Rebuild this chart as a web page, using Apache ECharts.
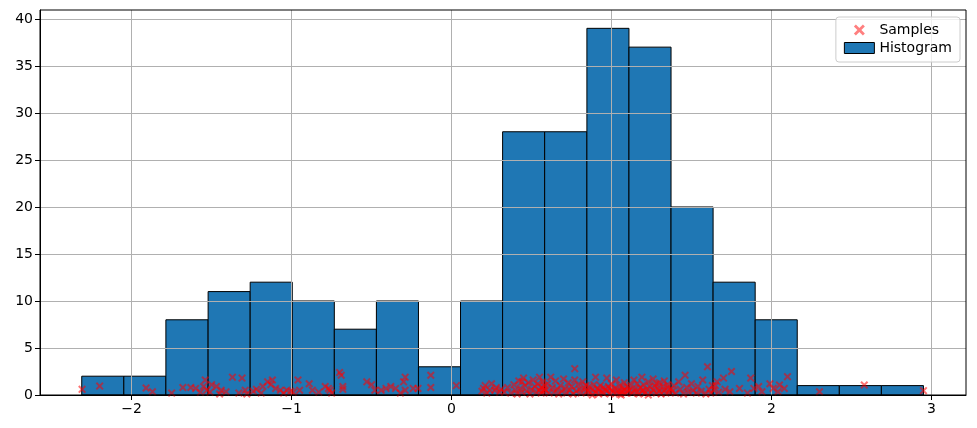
<!DOCTYPE html>
<html>
<head>
<meta charset="utf-8">
<script src="https://cdn.jsdelivr.net/npm/echarts@6/dist/echarts.min.js"></script>
<style>html,body{margin:0;padding:0;background:#fff;}#c{width:977px;height:428px;}</style>
</head>
<body>
<div id="c"></div>
<script>
const binEdges = [-2.312,-2.049,-1.786,-1.522,-1.259,-0.996,-0.733,-0.470,-0.207,0.056,0.319,0.582,0.846,1.109,1.372,1.635,1.898,2.161,2.424,2.687,2.950];
const counts = [2,2,8,11,12,10,7,10,3,10,28,28,39,37,20,12,8,1,1,1];
const xTicks = [-2,-1,0,1,2,3];
const yTicks = [0,5,10,15,20,25,30,35,40];
const samples = [
  [-2.31,0.6],[-2.20,0.95],
  [-1.91,0.74],[-1.87,0.35],
  [-1.75,0.2],[-1.68,0.8],[-1.63,0.8],[-1.60,0.7],[-1.57,0.3],[-1.55,0.9],[-1.54,1.6],[-1.53,0.5],
  [-1.51,0.3],[-1.50,1.1],[-1.47,0.9],[-1.44,0.5],[-1.41,0.35],[-1.37,1.9],[-1.33,0.2],[-1.31,1.8],[-1.29,0.5],[-1.28,0.1],[-1.45,0.1],
  [-1.24,0.4],[-1.22,0.6],[-1.19,0.2],[-1.18,0.9],[-1.15,1.4],[-1.13,1.1],[-1.12,1.6],[-1.10,0.7],[-1.07,0.5],[-1.05,0.2],[-1.03,0.5],[-1.005,0.4],
  [-0.99,0.3],[-0.96,1.6],[-0.95,0.5],[-0.89,1.2],[-0.87,0.5],[-0.83,0.3],[-0.79,0.9],[-0.77,0.7],[-0.76,0.5],[-0.75,0.2],
  [-0.70,2.4],[-0.69,2.1],[-0.68,0.9],[-0.68,0.6],[-0.53,1.4],[-0.50,1.1],[-0.48,0.5],
  [-0.44,0.5],[-0.41,0.7],[-0.38,0.9],[-0.35,0.7],[-0.32,0.2],[-0.30,1.4],[-0.29,1.9],[-0.29,0.5],[-0.24,0.7],[-0.21,0.7],
  [-0.13,2.1],[-0.13,0.8],[0.03,1.0],
  [0.19,0.4],[0.20,0.7],[0.21,1.0],[0.22,0.2],[0.24,0.5],[0.25,1.2],[0.27,0.5],[0.28,0.8],[0.30,0.3],[0.31,0.6],
  [0.33,0.3],[0.35,0.8],[0.37,0.2],[0.39,1.1],[0.40,0.5],[0.41,0.1],[0.42,1.5],[0.43,0.7],[0.44,0.3],[0.45,1.8],
  [0.46,1.0],[0.47,0.4],[0.48,1.3],[0.49,0.1],[0.50,0.6],[0.51,1.6],[0.52,0.9],[0.53,0.3],[0.54,1.2],[0.55,0.5],
  [0.55,1.9],[0.56,0.2],[0.56,0.8],[0.57,1.4],[0.57,0.4],[0.58,1.0],[0.58,0.6],[0.44,1.4],
  [0.59,0.5],[0.60,1.2],[0.61,0.2],[0.62,1.9],[0.63,0.8],[0.64,0.3],[0.65,1.5],[0.66,0.6],[0.67,0.1],[0.68,1.0],
  [0.69,0.4],[0.70,1.7],[0.71,0.7],[0.72,0.2],[0.73,1.3],[0.74,0.5],[0.75,0.9],[0.76,0.1],[0.77,2.8],[0.77,1.6],
  [0.78,0.4],[0.79,1.1],[0.80,0.6],[0.81,0.2],[0.82,1.4],[0.83,0.8],[0.84,0.3],[0.84,1.0],
  [0.85,0.4],[0.86,0.9],[0.87,0.2],[0.88,0.6],[0.89,1.1],[0.90,0.3],[0.90,1.9],[0.91,0.7],[0.92,0.1],[0.92,0.5],
  [0.93,1.0],[0.94,0.3],[0.95,0.8],[0.95,0.2],[0.96,0.6],[0.97,1.8],[0.97,0.4],[0.98,0.9],[0.99,0.1],[1.00,0.5],
  [1.00,1.2],[1.01,0.3],[1.02,0.7],[1.03,1.6],[1.03,0.2],[1.04,0.5],[1.05,1.0],[1.05,0.1],[1.06,0.4],[1.07,0.8],
  [1.07,0.3],[1.08,1.3],[1.08,0.6],[1.09,0.2],[1.10,0.9],[1.10,0.4],[0.88,0.0],[0.99,0.7],[1.06,0.0],
  [1.11,0.5],[1.12,1.0],[1.13,0.2],[1.14,1.6],[1.15,0.7],[1.16,0.3],[1.16,1.2],[1.17,0.1],[1.18,0.8],[1.19,1.9],
  [1.19,0.4],[1.20,1.1],[1.21,0.2],[1.22,0.6],[1.23,1.4],[1.23,0.0],[1.24,0.9],[1.25,0.3],[1.26,1.7],[1.26,0.5],
  [1.27,1.0],[1.28,0.2],[1.29,0.7],[1.30,1.3],[1.30,0.4],[1.31,0.1],[1.32,0.9],[1.33,0.5],[1.33,1.5],[1.34,0.2],
  [1.35,0.8],[1.35,1.1],[1.36,0.3],[1.37,0.6],[1.20,0.5],[1.28,1.2],[1.14,0.4],
  [1.38,0.4],[1.39,1.0],[1.40,0.2],[1.42,1.4],[1.43,0.6],[1.45,0.1],[1.46,2.1],[1.47,0.8],[1.48,0.3],[1.50,1.2],
  [1.51,0.5],[1.53,0.2],[1.54,0.9],[1.56,0.4],[1.57,1.6],[1.59,0.1],[1.60,3.0],[1.61,0.6],[1.62,0.2],[1.63,1.0],
  [1.64,0.5],[1.65,1.0],[1.66,1.4],[1.67,0.3],[1.70,1.8],[1.71,0.6],[1.74,0.35],[1.75,2.5],[1.80,0.7],[1.85,0.2],[1.87,1.8],[1.89,0.7],
  [1.92,0.9],[1.94,0.35],[1.99,1.2],[2.01,0.7],[2.04,0.35],[2.05,1.06],[2.08,0.7],[2.10,1.95],
  [2.30,0.35],
  [2.58,1.06],
  [2.95,0.46]
];

const histData = counts.map((c, i) => [binEdges[i], binEdges[i + 1], c]);
const xPath = 'path://M1.8,0L5,3.2L8.2,0L10,1.8L6.8,5L10,8.2L8.2,10L5,6.8L1.8,10L0,8.2L3.2,5L0,1.8Z';
const fmt = v => String(v).replace('-', '\u2212');
const font = 'DejaVu Sans';

const chart = echarts.init(document.getElementById('c'), null, {renderer: 'canvas'});
chart.setOption({
  animation: false,
  backgroundColor: '#fff',
  textStyle: {fontFamily: font},
  grid: {left: 40, right: 11, top: 10, bottom: 33, show: true, borderColor: '#000', borderWidth: 1, backgroundColor: 'transparent', z: 20},
  legend: {
    orient: 'vertical', right: 17, top: 17,
    padding: [6, 8, 7, 8], itemGap: 4, itemWidth: 30, itemHeight: 11,
    backgroundColor: 'rgba(255,255,255,0.8)', borderColor: '#cccccc', borderWidth: 1, borderRadius: 3,
    textStyle: {fontFamily: font, fontSize: 14, color: '#000'},
    data: [
      {name: 'Samples', icon: xPath, itemStyle: {color: '#ff0000', opacity: 0.5}},
      {name: 'Histogram', icon: 'rect', itemStyle: {color: '#1f77b4', borderColor: '#000', borderWidth: 1}}
    ],
    z: 30
  },
  xAxis: {
    type: 'value', min: -2.573, max: 3.216, z: 3,
    axisLine: {show: true, onZero: false, lineStyle: {color: '#000', width: 1}},
    axisTick: {show: true, length: 5, customValues: xTicks, lineStyle: {color: '#000'}},
    axisLabel: {customValues: xTicks, formatter: fmt, color: '#000', fontSize: 14, fontFamily: font, margin: 7},
    splitLine: {show: true, lineStyle: {color: '#b0b0b0', width: 1}}
  },
  yAxis: {
    type: 'value', min: 0, max: 40.95, z: 3,
    axisLine: {show: true, onZero: false, lineStyle: {color: '#000', width: 1}},
    axisTick: {show: true, length: 5, customValues: yTicks, lineStyle: {color: '#000'}},
    axisLabel: {customValues: yTicks, formatter: fmt, color: '#000', fontSize: 14, fontFamily: font, margin: 7},
    splitLine: {show: true, lineStyle: {color: '#b0b0b0', width: 1}}
  },
  series: [
    {
      name: 'Samples', type: 'scatter', z: 10,
      symbol: xPath, symbolSize: 8,
      itemStyle: {color: '#ff0000', opacity: 0.55},
      data: samples
    },
    {
      name: 'Histogram', type: 'custom', z: 1,
      itemStyle: {color: '#1f77b4', borderColor: '#000', borderWidth: 1},
      encode: {x: [0, 1], y: 2},
      data: histData,
      renderItem: function (params, api) {
        const p0 = api.coord([api.value(0), 0]);
        const p1 = api.coord([api.value(1), api.value(2)]);
        return {
          type: 'rect',
          shape: {x: p0[0], y: p1[1], width: p1[0] - p0[0], height: p0[1] - p1[1]},
          style: {fill: '#1f77b4', stroke: '#000', lineWidth: 1}
        };
      }
    }
  ]
});
</script>
</body>
</html>
